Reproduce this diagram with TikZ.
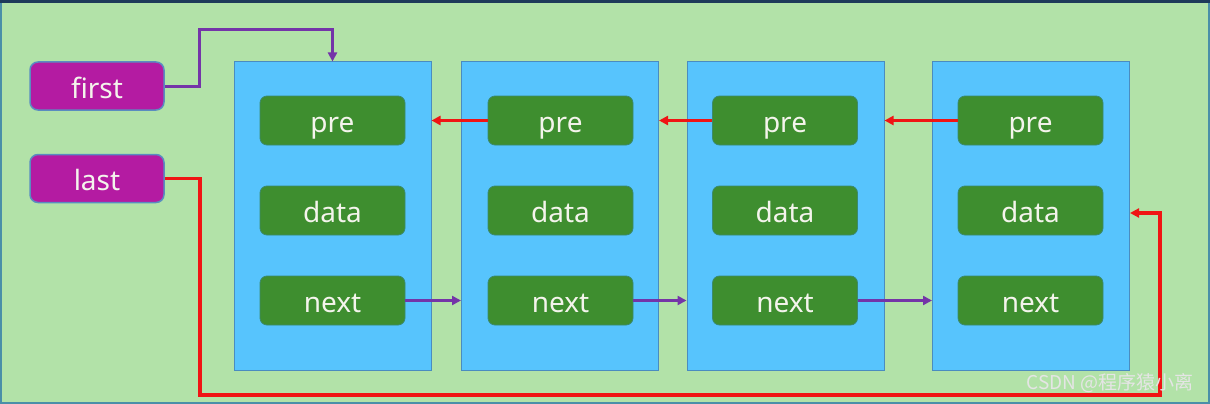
\documentclass[tikz,border=0pt]{standalone}
\usepackage{fontspec}
\setmainfont{Noto Sans}
\newfontfamily\cjkfont{Noto Sans CJK SC}
\usetikzlibrary{arrows.meta}
\definecolor{bggreen}{HTML}{B2E2A8}
\definecolor{navy}{HTML}{1E3A5A}
\definecolor{edgeteal}{HTML}{4A8FA8}
\definecolor{contblue}{HTML}{57C4FD}
\definecolor{contedge}{HTML}{4A8CC0}
\definecolor{fieldgreen}{HTML}{3E8E2F}
\definecolor{fieldedge}{HTML}{3A8A70}
\definecolor{magbox}{HTML}{B41BA2}
\definecolor{magedge}{HTML}{5A8CC0}
\definecolor{redline}{HTML}{F01414}
\definecolor{purpline}{HTML}{7434A8}
\definecolor{textwhite}{HTML}{F4F4EC}
\tikzset{
  container/.style={rectangle, fill=contblue, draw=contedge, line width=1pt,
    minimum width=197pt, minimum height=308pt, inner sep=0pt},
  field/.style={rectangle, rounded corners=7pt, fill=fieldgreen, draw=fieldedge, line width=0.8pt,
    minimum width=145pt, minimum height=49pt, inner sep=0pt, text=textwhite,
    text height=25pt, text depth=1pt,
    font=\fontsize{28}{32}\selectfont},
  ptrbox/.style={rectangle, rounded corners=8pt, fill=magbox, draw=magedge, line width=1.5pt,
    minimum width=134pt, minimum height=48pt, inner sep=0pt, text=textwhite,
    text height=25pt, text depth=1pt,
    font=\fontsize{28}{32}\selectfont},
  redarrow/.style={draw=redline, line width=3.4pt, -{Triangle[length=9pt,width=9pt]}},
  purparrow/.style={draw=purpline, line width=3pt, -{Triangle[length=9pt,width=9pt]}},
}
\begin{document}
\begin{tikzpicture}[x=1pt,y=-1pt]
\useasboundingbox (0,0) rectangle (1210,404);
\fill[bggreen] (0,0) rectangle (1210,404);
\fill[navy] (0,0) rectangle (1210,3);
\draw[edgeteal, line width=2pt] (1,3) -- (1,403) -- (1209,403) -- (1209,3);

% pointer boxes
\node[ptrbox] (first) at (97,86) {first};
\node[ptrbox] (last) at (97,178.5) {last};

% containers
\node[container] (c1) at (332.5,216) {};
\node[container] (c2) at (560,216) {};
\node[container] (c3) at (785.5,216) {};
\node[container] (c4) at (1031,216) {};

% fields
\foreach \i/\x in {1/332.5, 2/560.5, 3/785, 4/1030.5} {
  \node[field] (p\i) at (\x,120.5) {pre};
  \node[field] (d\i) at (\x,210.5) {data};
  \node[field] (n\i) at (\x,300.5) {next};
}

% pre links
\draw[redarrow] (p2.west) -- (c1.east |- p2.west);
\draw[redarrow] (p3.west) -- (c2.east |- p3.west);
\draw[redarrow] (p4.west) -- (c3.east |- p4.west);

% next links
\draw[purparrow] (n1.east) -- (c2.west |- n1.east);
\draw[purparrow] (n2.east) -- (c3.west |- n2.east);
\draw[purparrow] (n3.east) -- (c4.west |- n3.east);

% first pointer
\coordinate (fa) at (199,30);
\draw[purparrow] (first.east) -| (fa) -| (c1.north);

% last pointer
\coordinate (la) at (200,395);
\coordinate (lb) at (1160,213);
\draw[redarrow] (last.east) -| (la) -| (lb) -- (c4.east |- lb);

% watermark
\node[anchor=east, text=white!80!gray, font=\cjkfont\fontsize{19}{22}\selectfont, inner sep=0pt] (wm) at (1194,383) {CSDN @程序猿小离};
\end{tikzpicture}
\end{document}
